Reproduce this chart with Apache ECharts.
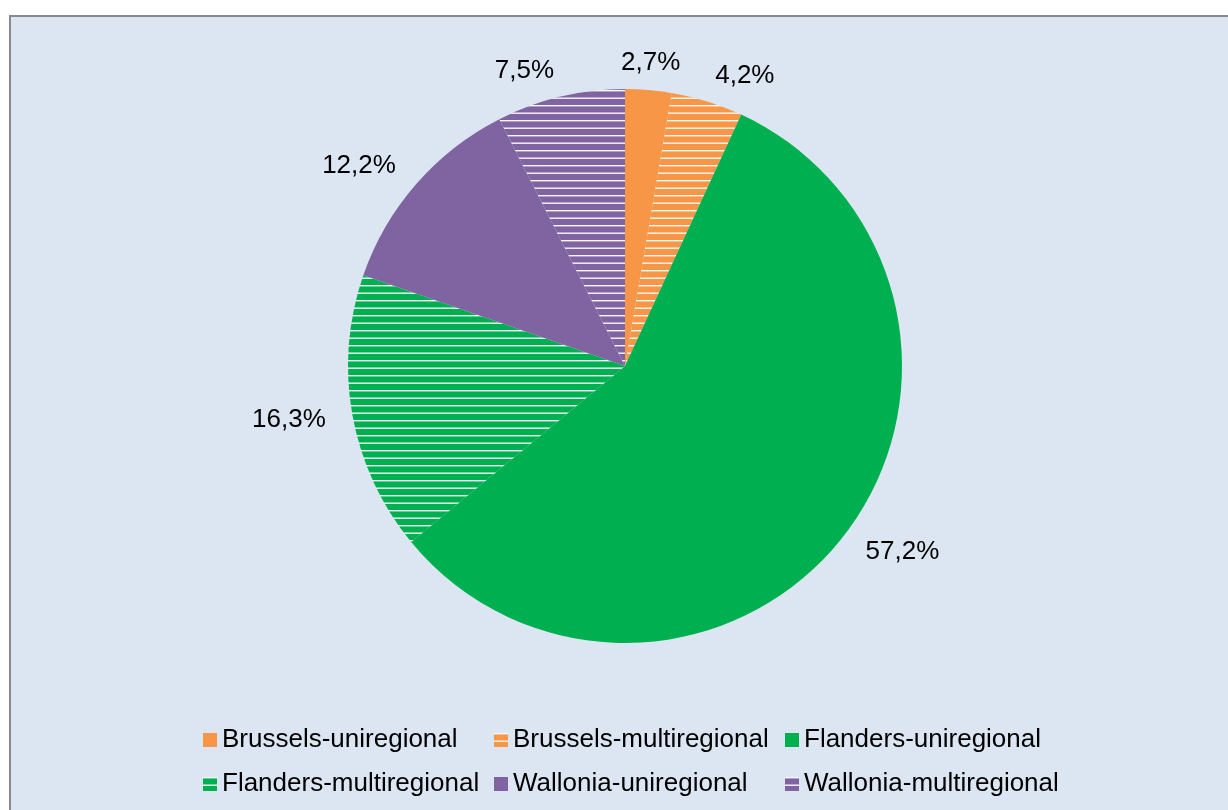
<!DOCTYPE html>
<html>
<head>
<meta charset="utf-8">
<script src="https://cdn.jsdelivr.net/npm/echarts@6/dist/echarts.min.js"></script>
<style>
  html, body { margin: 0; padding: 0; background: #fff; }
  #main { width: 1228px; height: 810px; }
</style>
</head>
<body>
<div id="main"></div>
<script>
var names = ['Brussels-uniregional', 'Brussels-multiregional', 'Flanders-uniregional',
             'Flanders-multiregional', 'Wallonia-uniregional', 'Wallonia-multiregional'];
var values = [2.7, 4.2, 57.2, 16.3, 12.2, 7.5];
var baseColors = ['#f79646', '#f79646', '#00b050', '#00b050', '#8064a2', '#8064a2'];
var hatched = [false, true, false, true, false, true];

// horizontal white stripes, like the Excel pattern fill
function stripes(color) {
    var c = document.createElement('canvas');
    c.width = 8;
    c.height = 15;
    var ctx = c.getContext('2d');
    ctx.fillStyle = color;
    ctx.fillRect(0, 0, 8, 15);
    ctx.fillStyle = 'rgba(255,255,255,0.95)';
    ctx.fillRect(0, 0, 8, 1.4);
    ctx.fillRect(0, 7.5, 8, 1.4);
    return { image: c, repeat: 'repeat' };
}

var myChart = echarts.init(document.getElementById('main'));
var data = [];
for (var i = 0; i < names.length; i++) {
    data.push({
        name: names[i],
        value: values[i],
        itemStyle: { color: hatched[i] ? stripes(baseColors[i]) : baseColors[i] }
    });
}

var option = {
    backgroundColor: '#ffffff',
    animation: false,
    graphic: [{
        type: 'rect',
        shape: { x: 10, y: 16, width: 1240, height: 820 },
        style: { fill: '#dce6f2', stroke: '#8a8a8a', lineWidth: 2 },
        z: -10
    }],
    legend: {
        left: 198,
        top: 713,
        width: 880,
        itemWidth: 14,
        itemHeight: 14,
        itemGap: 0,
        icon: 'rect',
        textStyle: {
            fontFamily: 'Liberation Sans, Arial, sans-serif',
            fontSize: 26,
            color: '#000',
            width: 272,
            lineHeight: 44
        },
        data: names
    },
    series: [{
        type: 'pie',
        center: [625, 366],
        radius: 277,
        startAngle: 90,
        avoidLabelOverlap: false,
        itemStyle: { borderWidth: 0 },
        emphasis: { disabled: true },
        label: {
            show: true,
            position: 'outside',
            fontFamily: 'Liberation Sans, Arial, sans-serif',
            fontSize: 26,
            color: '#000',
            distanceToLabelLine: 0,
            formatter: function (p) {
                return p.value.toFixed(1).replace('.', ',') + '%';
            }
        },
        labelLine: { show: false, length: 27, length2: 0 },
        // the small top slice label sits centred over its slice
        labelLayout: function (p) {
            if (p.dataIndex === 0) return { align: 'center' };
        },
        data: data
    }]
};
myChart.setOption(option);
</script>
</body>
</html>
